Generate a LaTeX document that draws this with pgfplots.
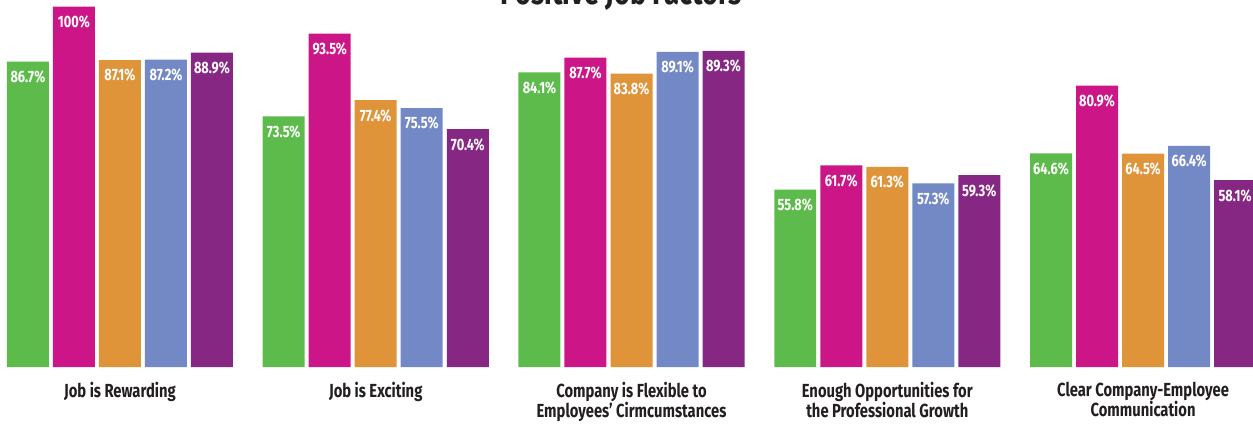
\documentclass[border=0pt]{standalone}
\usepackage{fontspec}
\setmainfont{Fira Sans}[FakeStretch=0.78]
\usepackage{pgfplots}
\pgfplotsset{compat=1.18}
\definecolor{cgreen}{HTML}{5DBB4C}
\definecolor{cmagenta}{HTML}{CC1587}
\definecolor{corange}{HTML}{DF943A}
\definecolor{cblue}{HTML}{7289C6}
\definecolor{cpurple}{HTML}{862783}
\definecolor{ctext}{HTML}{231F20}
\begin{document}
\begin{tikzpicture}
\begin{axis}[
  at={(0bp,64bp)}, anchor=south west,
  scale only axis,
  width=1253bp, height=367bp,
  xmin=-0.469, xmax=4.430,
  ymin=13, ymax=101.6,
  axis line style={draw=none},
  ytick=\empty,
  xtick={0,1,2,3,4},
  major tick length=0pt,
  /pgf/number format/assume math mode=true,
  xticklabels={Job is Rewarding, Job is Exciting, {Company is Flexible to\\Employees’ Cirmcumstances}, {Enough Opportunities for\\the Professional Growth}, {Clear Company-Employee\\Communication}},
  xticklabel style={font=\fontsize{19}{20}\selectfont\bfseries, text=ctext, align=center, yshift=-12bp},
  ybar, bar width=0.1642,
  every axis plot/.append style={draw=none},
  nodes near coords={\pgfmathprintnumber[fixed,precision=1]{\pgfplotspointmeta}\%},
  every node near coord/.append style={anchor=north, yshift=-5.5bp, text=white, font=\fontsize{16.5}{18}\selectfont\bfseries},
  clip=false,
]
\addplot[fill=cgreen, bar shift=-0.3598] coordinates {(0,86.7) (1,73.5) (2,84.1) (3,55.8) (4,64.6)};
\addplot[fill=cmagenta, bar shift=-0.1799] coordinates {(0,100) (1,93.5) (2,87.7) (3,61.7) (4,80.9)};
\addplot[fill=corange, bar shift=0] coordinates {(0,87.1) (1,77.4) (2,83.8) (3,61.3) (4,64.5)};
\addplot[fill=cblue, bar shift=0.1799] coordinates {(0,87.2) (1,75.5) (2,89.1) (3,57.3) (4,66.4)};
\addplot[fill=cpurple, bar shift=0.3598] coordinates {(0,88.9) (1,70.4) (2,89.3) (3,59.3) (4,58.1)};
\end{axis}
\node[anchor=base, font=\fontsize{35}{38}\selectfont\bfseries, text=ctext] at (621bp,426bp) {Positive Job Factors};
\pgfresetboundingbox
\useasboundingbox (0,0) rectangle (1253bp,431bp);
\end{tikzpicture}
\end{document}
